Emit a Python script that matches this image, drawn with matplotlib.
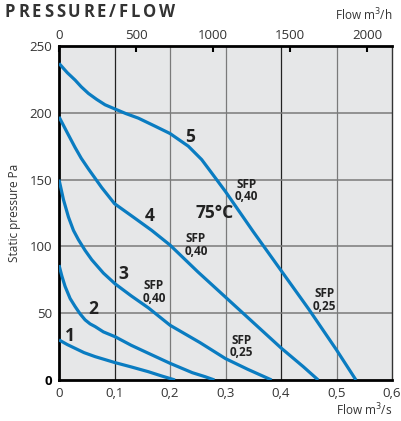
import numpy as np
import matplotlib.pyplot as plt

plt.rcParams['font.family'] = ['Open Sans', 'DejaVu Sans']
plt.rcParams['font.size'] = 9.5

# Fan curves: flow in m3/s, static pressure in Pa
q1 = [0, 0.015, 0.029, 0.045, 0.065, 0.085, 0.101, 0.13, 0.161, 0.185, 0.209]
p1 = [30, 26.5, 23.7, 20.5, 17.5, 15, 13, 9.8, 6.2, 3, 0]

q2 = [0, 0.005, 0.011, 0.02, 0.029, 0.038, 0.047, 0.056, 0.065, 0.08, 0.101, 0.13, 0.161, 0.2, 0.24, 0.263, 0.28]
p2 = [86, 78, 70, 61, 55, 49.5, 45, 42, 40, 36, 32.4, 26, 20, 12.5, 5.5, 2.5, 0]

q3 = [0, 0.008, 0.017, 0.026, 0.035, 0.047, 0.059, 0.08, 0.101, 0.13, 0.161, 0.2, 0.254, 0.3, 0.34, 0.383]
p3 = [150, 135, 122, 112, 105, 97, 90, 80, 72, 63, 54, 41, 28, 16, 8, 0]

q4 = [0, 0.015, 0.029, 0.04, 0.053, 0.065, 0.077, 0.1, 0.137, 0.167, 0.2, 0.25, 0.3, 0.35, 0.4, 0.44, 0.467]
p4 = [197, 185, 174, 166, 158, 151, 144, 132, 121, 112, 101, 81, 62, 43, 24, 10, 0]

q5 = [0, 0.015, 0.029, 0.04, 0.053, 0.068, 0.083, 0.1, 0.12, 0.143, 0.173, 0.2, 0.233, 0.257, 0.275, 0.3, 0.35, 0.4, 0.45, 0.5, 0.535]
p5 = [237, 230, 224.5, 219.5, 214.5, 210, 206, 203, 199.5, 196, 190, 184.5, 175, 165, 155, 141, 111, 82, 53, 22.5, 0]

curves = [(q1, p1), (q2, p2), (q3, p3), (q4, p4), (q5, p5)]
curve_names = ['1', '2', '3', '4', '5']
name_pos = [(0.02, 33), (0.062, 53), (0.116, 79), (0.163, 123), (0.236, 182)]

sfp_text = ['SFP\n0,40', 'SFP\n0,40', 'SFP\n0,40', 'SFP\n0,25', 'SFP\n0,25']
sfp_pos = [(0.338, 142), (0.247, 101), (0.171, 66), (0.329, 25), (0.479, 60)]

x_ticks = [0, 0.1, 0.2, 0.3, 0.4, 0.5, 0.6]
x_labels = ['0', '0,1', '0,2', '0,3', '0,4', '0,5', '0,6']
y_ticks = [0, 50, 100, 150, 200, 250]
top_ticks = [0, 500, 1000, 1500, 2000]
title = 'PRESSURE/FLOW'

blue = '#0a7cc1'

fig = plt.figure(figsize=(4.02, 4.21), dpi=100)
ax = fig.add_axes([0.1468, 0.0974, 0.8284, 0.7933])
ax.set_facecolor('#e6e7e8')
ax.set_xlim(0, 0.6)
ax.set_ylim(0, 250)

for x in x_ticks[1:-1]:
    c = '#222222' if x in (0.1, 0.4) else '#7a7a7a'
    ax.axvline(x, color=c, lw=0.9, zorder=1)
for y in y_ticks[1:-1]:
    ax.axhline(y, color='#7a7a7a', lw=1.1, zorder=1)

for (q, p) in curves:
    ax.plot(q, p, color=blue, lw=2.3, solid_capstyle='butt', solid_joinstyle='round', zorder=3)

for name, (x, y) in zip(curve_names, name_pos):
    ax.text(x, y, name, fontsize=12.5, fontweight='bold', color='#222222', ha='center', va='center', zorder=4)
for t, (x, y) in zip(sfp_text, sfp_pos):
    ax.text(x, y, t, fontsize=8.5, fontweight='bold', color='#222222', ha='center', va='center',
            linespacing=0.95, zorder=4)
ax.text(0.281, 125, '75°C', fontsize=12.5, fontweight='bold', color='#222222', ha='center', va='center', zorder=4)

ax.set_xticks(x_ticks)
ax.set_xticklabels(x_labels, color='#333333')
ax.set_yticks(y_ticks)
ax.set_yticklabels([str(v) for v in y_ticks], color='#333333')
ax.get_yticklabels()[0].set_fontweight('bold')
ax.get_yticklabels()[0].set_color('black')
ax.tick_params(length=0, pad=5)

for s in ['left', 'bottom', 'top']:
    ax.spines[s].set_linewidth(2)
ax.spines['right'].set_linewidth(1)
ax.spines['right'].set_color('#333333')

# top axis in m3/h
ax2 = ax.twiny()
ax2.set_xlim(0, 0.6 * 3600)
ax2.set_xticks(top_ticks)
ax2.set_xticklabels([str(v) for v in top_ticks], color='#333333')
ax2.tick_params(direction='in', length=4, width=1.5, pad=3)
for s in ax2.spines.values():
    s.set_visible(False)

ax.set_ylabel('Static pressure Pa', color='#333333', fontsize=8.5, labelpad=6)
fig.text(0.975, 0.026, 'Flow m$^3$/s', ha='right', va='center', fontsize=8.5, color='#333333')
fig.text(0.975, 0.965, 'Flow m$^3$/h', ha='right', va='center', fontsize=8.5, color='#333333')

# letter-spaced title: measure each glyph, spread them over x = 5..175 px
renderer = fig.canvas.get_renderer()
chars = []
for ch in title:
    t = fig.text(0, 0.972, ch, ha='left', va='center', fontsize=12,
                 fontweight='bold', color='#333333')
    chars.append((t, t.get_window_extent(renderer).width))
total = sum(w for _, w in chars)
gap = (170 - total) / (len(chars) - 1)
xpos = 5.0
for t, w in chars:
    t.set_x(xpos / 402)
    xpos += w + gap

fig.savefig('out.png', dpi=100)
